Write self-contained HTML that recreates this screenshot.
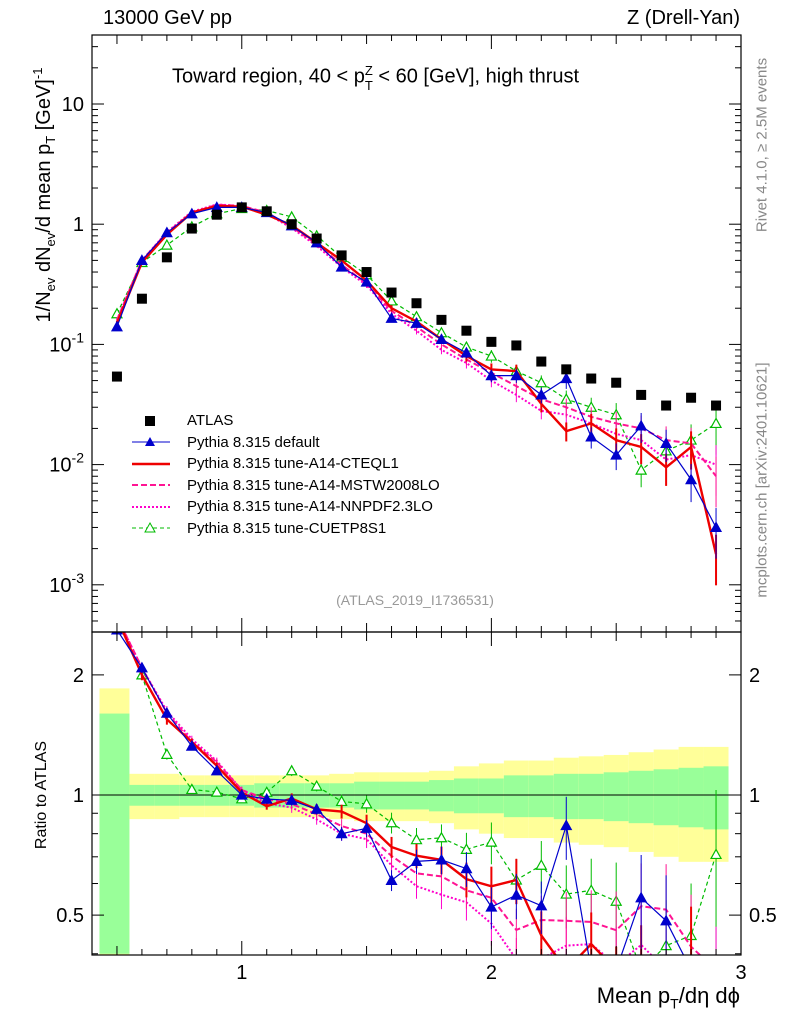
<!DOCTYPE html>
<html><head><meta charset="utf-8"><style>
html,body{margin:0;background:#fff;font-family:"Liberation Sans",sans-serif;width:786px;height:1024px;overflow:hidden}
svg text{font-family:"Liberation Sans",sans-serif}
</style></head><body>
<svg id="c" width="786" height="1024" xmlns="http://www.w3.org/2000/svg" style="position:absolute;left:0;top:0"></svg>
<script>
const xs=[0.5,0.6,0.7,0.8,0.9,1.0,1.1,1.2,1.3,1.4,1.5,1.6,1.7,1.8,1.9,2.0,2.1,2.2,2.3,2.4,2.5,2.6,2.7,2.8,2.9];
const atlas=[0.054,0.24,0.53,0.92,1.2,1.38,1.28,1.0,0.76,0.55,0.40,0.27,0.22,0.16,0.13,0.105,0.098,0.072,0.062,0.052,0.048,0.038,0.031,0.036,0.031];
const pyDefault=[0.14,0.50,0.85,1.22,1.38,1.38,1.25,0.97,0.70,0.44,0.33,0.165,0.15,0.11,0.085,0.055,0.055,0.038,0.052,0.017,0.012,0.021,0.015,0.0075,0.003];
const pyCTEQ=[0.15,0.48,0.82,1.25,1.42,1.40,1.20,0.98,0.70,0.50,0.34,0.20,0.155,0.11,0.08,0.062,0.060,0.032,0.019,0.022,0.016,0.014,0.0095,0.014,0.0018];
const pyMSTW=[0.16,0.50,0.85,1.25,1.45,1.42,1.25,0.95,0.68,0.46,0.32,0.19,0.14,0.10,0.075,0.058,0.045,0.035,0.030,0.025,0.022,0.020,0.016,0.015,0.008];
const pyNNPDF=[0.16,0.50,0.86,1.27,1.46,1.42,1.22,0.93,0.66,0.44,0.31,0.18,0.13,0.09,0.070,0.050,0.038,0.028,0.026,0.022,0.018,0.016,0.011,0.012,0.010];
const pyCUETP=[0.18,0.48,0.67,0.95,1.22,1.35,1.30,1.15,0.80,0.53,0.38,0.23,0.17,0.125,0.095,0.080,0.060,0.048,0.035,0.030,0.026,0.009,0.013,0.016,0.022];
const mcRelErr=[0.05,0.03,0.03,0.02,0.02,0.02,0.02,0.03,0.03,0.04,0.05,0.06,0.07,0.08,0.1,0.12,0.13,0.15,0.18,0.2,0.25,0.28,0.3,0.35,0.45];
const bandInner=[0.6,0.06,0.06,0.06,0.06,0.06,0.07,0.07,0.07,0.07,0.08,0.08,0.08,0.09,0.1,0.1,0.12,0.12,0.13,0.13,0.14,0.15,0.16,0.17,0.18];
const bandOuter=[0.85,0.13,0.13,0.12,0.12,0.12,0.12,0.12,0.12,0.13,0.14,0.14,0.14,0.15,0.18,0.2,0.22,0.22,0.24,0.25,0.26,0.28,0.3,0.32,0.32];
const yTicksMain=[10,1,0.1,0.01,0.001];
const xTickLabels=[1,2,3];

const S=document.getElementById('c'),NS='http://www.w3.org/2000/svg';
function el(t,a,p){const e=document.createElementNS(NS,t);for(const k in a)e.setAttribute(k,a[k]);(p||S).appendChild(e);return e;}
const L=92,R=741,T=35,M=632,B=955;
const X=v=>L+(v-0.4)/2.6*(R-L);
const Ym=v=>Math.min(M+15,Math.max(T-15,104-(Math.log10(v)-1)*120.2));
const Yr=v=>Math.min(B+15,Math.max(M-15,795-Math.log10(v)*399));
const clipM=el('clipPath',{id:'cm'});el('rect',{x:L,y:T,width:R-L,height:M-T},clipM);
const clipR=el('clipPath',{id:'cr'});el('rect',{x:L,y:M,width:R-L,height:B-M},clipR);
const gb=el('g',{'clip-path':'url(#cr)'});

xs.forEach((x,i)=>{const x0=X(x-0.05)+ (i==0?-5:0),x1=X(x+0.05);
 let r=el('rect',{x:x0,y:Yr(1+bandOuter[i]),width:x1-x0,height:Yr(Math.max(0.3,1-bandOuter[i]))-Yr(1+bandOuter[i]),fill:'#ffff99'},gb);
 r=el('rect',{x:x0,y:Yr(1+bandInner[i]),width:x1-x0,height:Yr(Math.max(0.35,1-bandInner[i]))-Yr(1+bandInner[i]),fill:'#99ff99'},gb);
 });
el('line',{x1:L,x2:R,y1:Yr(1),y2:Yr(1),stroke:'#000','stroke-width':1});
const series=[
 {n:'default',d:pyDefault,c:'#0000cc',w:1.2,dash:'',mk:'tri'},
 {n:'cteql1',d:pyCTEQ,c:'#ee0000',w:2.4,dash:'',mk:''},
 {n:'mstw',d:pyMSTW,c:'#ff1493',w:2,dash:'6,3',mk:''},
 {n:'nnpdf',d:pyNNPDF,c:'#ff00cc',w:2,dash:'2,2',mk:''},
 {n:'cuetp8s1',d:pyCUETP,c:'#00bb00',w:1.2,dash:'4,3',mk:'otri'}];
function tri(g,x,y,c,open){const p=el('path',{d:`M${x},${y-5}L${x+5},${y+4}L${x-5},${y+4}Z`,fill:open?'#fff':c,stroke:c,'stroke-width':1.2},g);}
function draw(panel){
 const Y=panel?Yr:Ym;
 series.slice().reverse().forEach(s=>{
  const g=el('g',{'clip-path':panel?'url(#cr)':'url(#cm)'});
  
  const vals=s.d.map((v,i)=>panel?v/atlas[i]:v);
  xs.forEach((x,i)=>{const v=vals[i],e=v*mcRelErr[i];
   el('line',{x1:X(x),x2:X(x),y1:Y(v+e),y2:Y(Math.max(v-e,v*0.05)),stroke:s.c,'stroke-width':s.w>2?2:1},g);});
  let d='';xs.forEach((x,i)=>{d+=(i?'L':'M')+X(x).toFixed(1)+','+Y(vals[i]).toFixed(1);});
  el('path',{d,fill:'none',stroke:s.c,'stroke-width':s.w,'stroke-dasharray':s.dash},g);
  if(s.mk)xs.forEach((x,i)=>tri(g,X(x),Y(vals[i]),s.c,s.mk=='otri'));
 });
}
draw(false);draw(true);
const ga=el('g',{'clip-path':'url(#cm)'});
xs.forEach((x,i)=>{const r=el('rect',{x:X(x)-5,y:Ym(atlas[i])-5,width:10,height:10,fill:'#000'},ga);});
el('rect',{x:L,y:T,width:R-L,height:M-T,fill:'none',stroke:'#000','stroke-width':1.2});
el('rect',{x:L,y:M,width:R-L,height:B-M,fill:'none',stroke:'#000','stroke-width':1.2});
for(let e=-4;e<=1;e++)for(let k=1;k<10;k++){const v=k*Math.pow(10,e),y=Ym(v);if(y<T||y>M)continue;const l=k==1?12:6;
 el('line',{x1:L,x2:L+l,y1:y,y2:y,stroke:'#000'});el('line',{x1:R,x2:R-l,y1:y,y2:y,stroke:'#000'});}
yTicksMain.forEach(v=>{const t=el('text',{x:L-8,y:Ym(v)+7,'text-anchor':'end','font-size':20});
 const e=Math.round(Math.log10(v));
 if(e>=0)t.textContent=String(v);else{t.textContent='10';const s=el('tspan',{dy:-9,'font-size':14},t);s.textContent=String(e);}
 });
[0.4,0.5,0.6,0.7,0.8,0.9,1,2].forEach(v=>{const y=Yr(v);if(y>=B)return;const l=(v==1||v==2||v==0.5)?12:6;
 el('line',{x1:L,x2:L+l,y1:y,y2:y,stroke:'#000'});el('line',{x1:R,x2:R-l,y1:y,y2:y,stroke:'#000'});});
[[2,'2'],[1,'1'],[0.5,'0.5']].forEach(([v,s])=>{let t=el('text',{x:L-8,y:Yr(v)+7,'text-anchor':'end','font-size':20});t.textContent=s;
 t=el('text',{x:R+8,y:Yr(v)+7,'font-size':20});t.textContent=s;});
for(let v=0.5;v<=3.001;v+=0.1){const x=X(v),r=Math.abs(v-Math.round(v))<0.01,h=Math.abs(v*2-Math.round(v*2))<0.01;const l=r?14:h?9:6;
 [T,M].forEach(y=>el('line',{x1:x,x2:x,y1:y,y2:y+l,stroke:'#000'}));[M,B].forEach(y=>el('line',{x1:x,x2:x,y1:y,y2:y-l,stroke:'#000'}));}
xTickLabels.forEach(v=>{const t=el('text',{x:X(v),y:B+24,'text-anchor':'middle','font-size':20});t.textContent=v;});
</script>
<div style="position:absolute;left:0;top:0;width:786px;height:1024px;overflow:hidden;pointer-events:none;font-family:'Liberation Sans',sans-serif">
<div style="position:absolute;left:103px;top:7px;font-size:20px">13000 GeV pp</div>
<div style="position:absolute;right:46px;top:7px;font-size:20px">Z (Drell-Yan)</div>
<div style="position:absolute;left:172px;top:63px;font-size:20px;white-space:nowrap">Toward region, 40 &lt; p<sub style="font-size:13px;position:relative;top:2px">T</sub><sup style="font-size:13px;margin-left:-8px">Z</sup> &lt; 60 [GeV], high thrust</div>
<div style="position:absolute;left:44px;top:195px;font-size:20px;white-space:nowrap;transform:translate(-50%,-50%) rotate(-90deg)">1/N<sub style="font-size:13px">ev</sub> dN<sub style="font-size:13px">ev</sub>/d mean p<sub style="font-size:13px">T</sub> [GeV]<sup style="font-size:13px">-1</sup></div>
<div style="position:absolute;left:42px;top:795px;font-size:16px;white-space:nowrap;transform:translate(-50%,-50%) rotate(-90deg)">Ratio to ATLAS</div>
<div style="position:absolute;right:46px;top:983px;font-size:22px;white-space:nowrap">Mean p<sub style="font-size:14px">T</sub>/dη dϕ</div>
<div style="position:absolute;left:762px;top:145px;font-size:15px;color:#888;white-space:nowrap;transform:translate(-50%,-50%) rotate(-90deg)">Rivet 4.1.0, ≥ 2.5M events</div>
<div style="position:absolute;left:762px;top:480px;font-size:15px;color:#888;white-space:nowrap;transform:translate(-50%,-50%) rotate(-90deg)">mcplots.cern.ch [arXiv:2401.10621]</div>
<div style="position:absolute;left:415px;top:592px;font-size:14px;color:#999;transform:translateX(-50%);white-space:nowrap">(ATLAS_2019_I1736531)</div>
<div style="position:absolute;left:130px;top:410px;font-size:15px;line-height:21.5px">
<svg width="50" height="130" style="position:absolute;left:0;top:0">
<rect x="15" y="6" width="10" height="10" fill="#000"/>
<line x1="2" x2="40" y1="32" y2="32" stroke="#0000cc"/><path d="M20,27L25,36L15,36Z" fill="#0000cc"/>
<line x1="2" x2="40" y1="54" y2="54" stroke="#ee0000" stroke-width="2.4"/>
<line x1="2" x2="40" y1="75" y2="75" stroke="#ff1493" stroke-width="2" stroke-dasharray="6,3"/>
<line x1="2" x2="40" y1="97" y2="97" stroke="#ff00cc" stroke-width="2" stroke-dasharray="2,2"/>
<line x1="2" x2="40" y1="118" y2="118" stroke="#00bb00" stroke-dasharray="4,3"/><path d="M20,113L25,122L15,122Z" fill="#fff" stroke="#00bb00"/>
</svg>
<div style="margin-left:57px">
<div>ATLAS</div>
<div>Pythia 8.315 default</div>
<div>Pythia 8.315 tune-A14-CTEQL1</div>
<div>Pythia 8.315 tune-A14-MSTW2008LO</div>
<div>Pythia 8.315 tune-A14-NNPDF2.3LO</div>
<div>Pythia 8.315 tune-CUETP8S1</div>
</div></div>
</div>
</body></html>
